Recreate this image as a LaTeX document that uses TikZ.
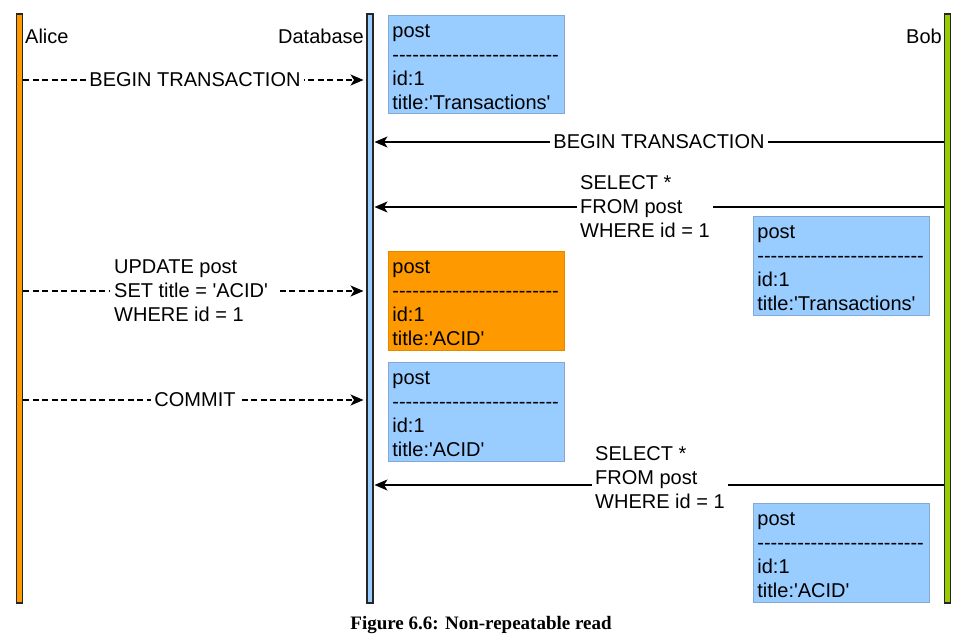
\documentclass[tikz,border=0pt]{standalone}
\usepackage{fontspec}
\setmainfont{Liberation Sans}
\newfontfamily\capfont{Liberation Serif}
\usetikzlibrary{arrows.meta}
\definecolor{dbblue}{HTML}{99CCFF}
\definecolor{boxedge}{HTML}{86A9D4}
\definecolor{aorange}{HTML}{FF9900}
\definecolor{oedge}{HTML}{E08A00}
\definecolor{bgreen}{HTML}{99CC00}
\newcommand\q{\textquotesingle}
\newcommand\dd{-{}-{}-{}-{}-{}}
\newcommand\dashrow{\dd\dd\dd\dd\dd}
\newcommand\topstrut{\rule{0pt}{18pt}}
\begin{document}
\begin{tikzpicture}[x=1pt,y=-1pt,
  lifeline/.style={draw=black!85, line width=1.1pt, minimum width=6pt, inner sep=0pt, outer sep=0.5pt},
  rec/.style={draw=boxedge, line width=0.8pt, fill=dbblue, minimum width=176pt, text width=168pt,
    align=left, inner sep=4pt, anchor=north west, font=\fontsize{20}{24}\selectfont},
  who/.style={inner sep=0pt, font=\fontsize{20}{24}\selectfont},
  msg/.style={line width=1.2pt, -{Stealth[length=13pt,width=11pt,inset=3.5pt]}},
  msgd/.style={msg, dash pattern=on 6pt off 3.5pt},
  lbl/.style={fill=white, inner xsep=3pt, inner ysep=1pt, align=left, font=\fontsize{20}{24}\selectfont}]
\useasboundingbox (0,0) rectangle (962,639);

% lifelines
\node[lifeline, fill=aorange, minimum height=589pt] (alice) at (19.5,308.5) {};
\node[lifeline, fill=dbblue, minimum height=589pt] (db) at (370,308.5) {};
\node[lifeline, fill=bgreen, minimum height=589pt] (bob) at (947.5,308.5) {};

\node[who, anchor=base west] (alicelbl) at (25,44) {Alice};
\node[who, anchor=base east] (dblbl) at (364,44) {Database};
\node[who, anchor=base east] (boblbl) at (942,44) {Bob};

% record boxes
\node[rec, minimum height=98pt] (r1) at (388,15) {\topstrut post\\\dashrow\\id:1\\title:\q Transactions\q};
\node[rec, minimum height=99pt] (r2) at (753,216) {\topstrut post\\\dashrow\\id:1\\title:\q Transactions\q};
\node[rec, minimum height=99pt, fill=aorange, draw=oedge] (r3) at (388,251) {\topstrut post\\\dashrow\\id:1\\title:\q ACID\q};
\node[rec, minimum height=99pt] (r4) at (388,362) {\topstrut post\\\dashrow\\id:1\\title:\q ACID\q};
\node[rec, minimum height=99pt] (r5) at (753,503) {\topstrut post\\\dashrow\\id:1\\title:\q ACID\q};

% message rows
\coordinate (y1) at (0,80);
\coordinate (y2) at (0,142);
\coordinate (y3) at (0,207);
\coordinate (y4) at (0,291);
\coordinate (y5) at (0,400);
\coordinate (y6) at (0,485);

\draw[msgd, shorten >=3pt] (alice.east |- y1) -- (db.west |- y1);
\draw[msg, shorten >=1pt] (bob.west |- y2) -- (db.east |- y2);
\draw[msg, shorten >=1pt] (bob.west |- y3) -- (db.east |- y3);
\draw[msgd, shorten >=3pt] (alice.east |- y4) -- (db.west |- y4);
\draw[msgd, shorten >=3pt] (alice.east |- y5) -- (db.west |- y5);
\draw[msg, shorten >=1pt] (bob.west |- y6) -- (db.east |- y6);

\node[lbl] (m1) at (195,80) {BEGIN TRANSACTION};
\node[lbl] (m2) at (659,142) {BEGIN TRANSACTION};
\node[lbl, anchor=west] (m3) at (577,207) {SELECT *\\FROM post\\WHERE id = 1};
\node[lbl, anchor=west, inner xsep=4pt] (m4) at (110,291) {UPDATE post\\SET title = \q ACID\q\rule{8pt}{0pt}\\WHERE id = 1};
\node[lbl] (m5) at (195,400) {COMMIT};
\node[lbl, anchor=west] (m6) at (592,478) {SELECT *\\FROM post\\WHERE id = 1};

% caption
\node[font=\capfont\bfseries\fontsize{19}{22}\selectfont, anchor=base, inner sep=0pt] (cap) at (481,629) {Figure 6.6: Non-repeatable read};
\end{tikzpicture}
\end{document}
